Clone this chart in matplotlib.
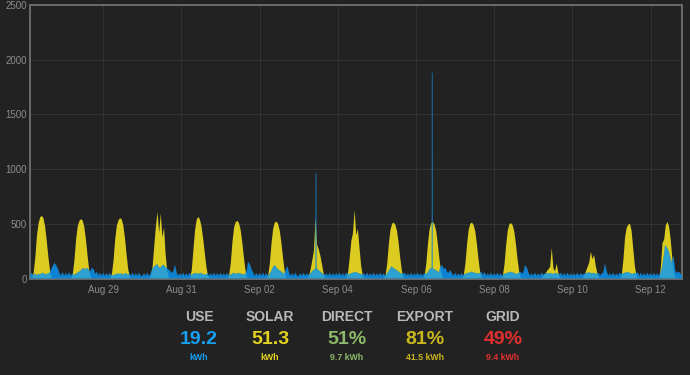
import numpy as np
import matplotlib
matplotlib.use("Agg")
import matplotlib.pyplot as plt
import matplotlib.dates as mdates
from datetime import datetime, timedelta

plt.rcParams['font.family'] = ['Liberation Sans', 'DejaVu Sans']

# ---------------- data ----------------
start_day = datetime(2019, 8, 27)

# solar power (W), hourly readings from 04:00 to 18:00 for each day
solar_hours = list(range(4, 19))
solar_aug27 = [10, 60, 200, 400, 510, 565, 577, 555, 480, 350, 200, 80, 15, 0, 0]
solar_aug28 = [5, 45, 170, 360, 480, 530, 547, 535, 480, 370, 220, 90, 20, 0, 0]
solar_aug29 = [5, 45, 170, 360, 485, 535, 556, 545, 490, 375, 225, 90, 20, 0, 0]
solar_aug30 = [0, 30, 120, 300, 480, 612, 420, 600, 380, 470, 220, 70, 10, 0, 0]
solar_aug31 = [0, 10, 80, 260, 440, 540, 568, 545, 480, 370, 240, 110, 30, 5, 0]
solar_sep01 = [5, 40, 150, 340, 470, 520, 532, 510, 450, 340, 200, 80, 15, 0, 0]
solar_sep02 = [5, 40, 150, 330, 460, 515, 525, 505, 445, 335, 200, 80, 15, 0, 0]
solar_sep03 = [0, 5, 30, 90, 170, 260, 560, 310, 270, 210, 130, 50, 10, 0, 0]
solar_sep04 = [0, 10, 60, 200, 350, 420, 630, 400, 460, 280, 120, 30, 5, 0, 0]
solar_sep05 = [5, 35, 140, 320, 450, 505, 516, 495, 440, 330, 190, 75, 15, 0, 0]
solar_sep06 = [5, 35, 140, 320, 455, 510, 521, 500, 445, 330, 190, 75, 15, 0, 0]
solar_sep07 = [5, 35, 140, 315, 450, 505, 516, 495, 440, 325, 185, 70, 15, 0, 0]
solar_sep08 = [5, 30, 135, 310, 445, 500, 511, 490, 435, 320, 180, 70, 15, 0, 0]
solar_sep09 = [0, 10, 30, 50, 70, 90, 110, 284, 100, 70, 140, 60, 15, 0, 0]
solar_sep10 = [0, 0, 10, 30, 70, 110, 150, 250, 180, 220, 120, 50, 10, 0, 0]
solar_sep11 = [0, 5, 40, 180, 380, 470, 495, 507, 440, 280, 120, 30, 5, 0, 0]
solar_sep12 = [0, 10, 110, 330, 360, 490, 523, 480, 360, 190, 60, 10, 0, 0, 0]

# house use (W), hourly readings 00:00..23:00 for each day
use_aug27 = [22, 22, 22, 22, 50, 22, 45, 25, 40, 35, 45, 50, 40, 35, 45, 50, 80, 110, 140, 120, 90, 50, 22, 55]
use_aug28 = [22, 50, 22, 55, 22, 45, 30, 40, 50, 60, 70, 85, 95, 80, 95, 80, 60, 95, 85, 40, 60, 22, 50, 22]
use_aug29 = [50, 22, 45, 22, 50, 22, 30, 35, 40, 45, 40, 45, 35, 40, 50, 30, 45, 22, 50, 22, 45, 22, 50, 22]
use_aug30 = [22, 45, 22, 50, 22, 40, 80, 105, 115, 130, 105, 95, 115, 125, 105, 95, 80, 70, 50, 60, 120, 50, 22, 45]
use_aug31 = [22, 50, 22, 45, 22, 50, 30, 40, 45, 50, 40, 45, 50, 35, 40, 30, 50, 22, 45, 22, 50, 22, 45, 22]
use_sep01 = [50, 22, 45, 22, 50, 22, 35, 40, 50, 45, 40, 50, 45, 40, 35, 40, 60, 150, 125, 80, 50, 22, 45, 22]
use_sep02 = [45, 22, 50, 22, 45, 22, 40, 60, 95, 120, 105, 85, 75, 65, 50, 40, 75, 110, 50, 22, 45, 22, 50, 22]
use_sep03 = [22, 45, 22, 50, 22, 45, 30, 40, 60, 75, 85, 95, 75, 65, 50, 40, 30, 45, 22, 50, 22, 45, 22, 50]
use_sep04 = [22, 50, 22, 45, 22, 50, 35, 40, 45, 50, 55, 60, 50, 45, 40, 35, 45, 22, 50, 22, 45, 22, 50, 22]
use_sep05 = [45, 22, 50, 22, 45, 22, 40, 60, 85, 110, 95, 85, 75, 65, 50, 45, 40, 50, 22, 45, 22, 50, 22, 45]
use_sep06 = [22, 50, 22, 45, 22, 45, 40, 50, 75, 95, 90, 85, 75, 65, 50, 105, 120, 85, 95, 60, 50, 75, 45, 22]
use_sep07 = [50, 22, 45, 22, 50, 22, 40, 45, 50, 55, 60, 55, 50, 45, 50, 40, 60, 30, 55, 22, 45, 22, 50, 22]
use_sep08 = [45, 22, 50, 22, 45, 22, 40, 45, 50, 55, 60, 55, 50, 45, 40, 50, 60, 45, 55, 120, 95, 50, 22, 45]
use_sep09 = [22, 50, 22, 45, 22, 50, 35, 40, 50, 45, 50, 45, 40, 45, 50, 40, 35, 50, 22, 45, 22, 50, 22, 45]
use_sep10 = [22, 45, 22, 50, 22, 45, 35, 40, 45, 50, 55, 50, 45, 50, 45, 40, 50, 22, 45, 50, 130, 60, 22, 45]
use_sep11 = [22, 50, 22, 45, 22, 50, 40, 45, 50, 55, 60, 50, 45, 40, 50, 45, 55, 22, 50, 22, 45, 22, 50, 22]
use_sep12 = [45, 22, 50, 22, 45, 22, 50, 90, 190, 300, 280, 250, 190, 140, 200, 70, 50, 60, 50, 30, 45, 22, 50, 22]

# short use spikes: (time, peak W, surrounding W)
use_spikes = [(datetime(2019, 9, 3, 10, 35), 960, 80),
              (datetime(2019, 9, 6, 9, 55), 1880, 90)]

solar_days = [solar_aug27, solar_aug28, solar_aug29, solar_aug30, solar_aug31, solar_sep01,
              solar_sep02, solar_sep03, solar_sep04, solar_sep05, solar_sep06, solar_sep07,
              solar_sep08, solar_sep09, solar_sep10, solar_sep11, solar_sep12]
use_days = [use_aug27, use_aug28, use_aug29, use_aug30, use_aug31, use_sep01, use_sep02,
            use_sep03, use_sep04, use_sep05, use_sep06, use_sep07, use_sep08, use_sep09,
            use_sep10, use_sep11, use_sep12]

stat_titles = ["USE", "SOLAR", "DIRECT", "EXPORT", "GRID"]
stat_values = ["19.2", "51.3", "51%", "81%", "49%"]
stat_units = ["kWh", "kWh", "9.7 kWh", "41.5 kWh", "9.4 kWh"]
stat_colors = ["#169ff3", "#e4d220", "#8cb96a", "#c9b81c", "#e0302f"]

view_start = datetime(2019, 8, 27, 3, 12)
view_end = datetime(2019, 9, 12, 19, 25)

# ---------------- assemble series ----------------
s_times, solar = [], []
u_pts = []
for d in range(len(use_days)):
    day0 = start_day + timedelta(days=d)
    sday = dict(zip(solar_hours, solar_days[d]))
    for h in range(24):
        t = day0 + timedelta(hours=h)
        s_times.append(t)
        solar.append(sday.get(h, 0))
        u_pts.append((t, use_days[d][h]))
for t, peak, base in use_spikes:
    u_pts.append((t - timedelta(minutes=12), base))
    u_pts.append((t, peak))
    u_pts.append((t + timedelta(minutes=12), base))
u_pts.sort(key=lambda p: p[0])

s_num = mdates.date2num(s_times)
solar = np.array(solar, float)
u_num = mdates.date2num([p[0] for p in u_pts])
use = np.array([p[1] for p in u_pts], float)

# ---------------- figure ----------------
BG = "#222222"
fig = plt.figure(figsize=(6.9, 3.75), dpi=100, facecolor=BG)
ax = fig.add_axes([0.0439, 0.2573, 0.9449, 0.7294], facecolor=BG)

ax.fill_between(s_num, 0, solar, color="#dccc1f", lw=0, zorder=2)
ax.fill_between(u_num, 0, use, facecolor="#0699fa", alpha=0.82, lw=0, zorder=3)
ax.plot(u_num, use, color="#1a7fc0", lw=0.5, alpha=0.6, zorder=3)

ax.set_xlim(mdates.date2num(view_start), mdates.date2num(view_end))
ax.set_ylim(0, 2500)
ax.set_yticks([0, 500, 1000, 1500, 2000, 2500])
ax.xaxis.set_major_locator(mdates.DayLocator(bymonthday=[29, 31, 2, 4, 6, 8, 10, 12]))
ax.xaxis.set_major_formatter(mdates.DateFormatter("%b %d"))

ax.grid(True, color="#333333", lw=0.8, zorder=0)
ax.set_axisbelow(True)
ax.tick_params(axis="both", length=0, colors="#8c8c8c", labelsize=7)
ax.tick_params(axis="x", pad=5)
ax.tick_params(axis="y", pad=2.5)
for s in ax.spines.values():
    s.set_color("#6a6a6a")
    s.set_linewidth(1.4)

xs = [199, 270, 346.5, 425, 503]
for x, title, val, unit, col in zip(xs, stat_titles, stat_values, stat_units, stat_colors):
    fx = x / 690
    fig.text(fx, 1 - 316.7 / 375, title, color="#b8b8b8", fontsize=10, fontweight="bold",
             ha="center", va="center")
    fig.text(fx, 1 - 339 / 375, val, color=col, fontsize=14, fontweight="bold",
             ha="center", va="center")
    fig.text(fx, 1 - 358 / 375, unit, color=col, fontsize=6.3, fontweight="bold",
             ha="center", va="center")

fig.savefig("out.png", dpi=100, facecolor=BG)
